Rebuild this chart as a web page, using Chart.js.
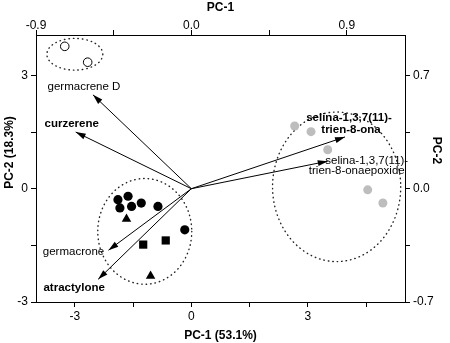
<!DOCTYPE html>
<html>
<head>
<meta charset="utf-8">
<script src="https://cdn.jsdelivr.net/npm/chart.js@4/dist/chart.umd.min.js"></script>
<style>
html, body { margin: 0; padding: 0; background: #fff; }
</style>
</head>
<body>
<canvas id="chart" width="450" height="343"></canvas>
<script>
// Scores on PC-1 / PC-2 (bottom / left axes)
const openPts = [[-3.26, 3.77], [-2.67, 3.35]];
const greyPts = [[2.66, 1.66], [3.08, 1.51], [3.51, 1.03], [4.54, -0.03], [4.93, -0.38]];
const blackPts = [[-1.89, -0.29], [-1.63, -0.20], [-1.84, -0.51], [-1.54, -0.47], [-1.29, -0.38], [-0.86, -0.47], [-0.17, -1.09]];
const triPts = [[-1.67, -0.80], [-1.05, -2.31]];
const squarePts = [[-1.24, -1.48], [-0.66, -1.37]];

// Loadings (top / right axes)
const loadNames = ['germacrene D', 'curzerene', 'selina-1,3,7(11)-trien-8-ona', 'selina-1,3,7(11)-trien-8-onaepoxide', 'germacrone', 'atractylone'];
const loadX = [-0.57, -0.67, 0.89, 0.79, -0.48, -0.54];
const loadY = [0.58, 0.35, 0.32, 0.17, -0.38, -0.56];

// Group ellipses (score units)
const ellCx = [-3.0, 3.74, -1.2];
const ellCy = [3.56, 0.05, -1.13];
const ellRx = [0.72, 1.65, 1.21];
const ellRy = [0.42, 1.98, 1.40];

// Axis ticks
const bottomTicks = [-3, -1.5, 0, 1.5, 3, 4.5];
const bottomLabels = ['-3', '', '0', '', '3', ''];
const topTicks = [-0.9, -0.45, 0, 0.45, 0.9];
const topLabels = ['-0.9', '', '0.0', '', '0.9'];
const leftTicks = [-3, -1.5, 0, 1.5, 3];
const leftLabels = ['-3', '', '0', '', '3'];
const rightTicks = [-0.7, -0.35, 0, 0.35, 0.7];
const rightLabels = ['-0.7', '', '0.0', '', '0.7'];

const FONT = '"Liberation Sans", Arial, Helvetica, sans-serif';
Chart.defaults.font.family = FONT;
Chart.defaults.color = '#000';

const toXY = arr => arr.map(p => ({x: p[0], y: p[1]}));

// how each loading label sits relative to its arrow tip (px)
const labelLayout = [
    {bold: false, lines: [['germacrene D', -9, -8]]},
    {bold: true, lines: [['curzerene', -4, -8]]},
    {bold: true, lines: [['selina-1,3,7(11)-', 4, -19], ['trien-8-ona', 6, -7]]},
    {bold: false, lines: [['selina-1,3,7(11)-', 39, 0], ['trien-8-onaepoxide', 29, 10]]},
    {bold: false, lines: [['germacrone', -35, 2]]},
    {bold: true, lines: [['atractylone', -24, 8]]}
];

const biplotPlugin = {
    id: 'biplot',
    beforeDatasetsDraw(chart) {
        const ctx = chart.ctx;
        const sx = chart.scales.x, sy = chart.scales.y;
        ctx.save();
        ctx.strokeStyle = '#222';
        ctx.lineWidth = 1.4;
        ctx.lineCap = 'round';
        ctx.setLineDash([0.5, 4]);
        ellCx.forEach((cx, i) => {
            const px = sx.getPixelForValue(cx);
            const py = sy.getPixelForValue(ellCy[i]);
            const rx = Math.abs(sx.getPixelForValue(cx + ellRx[i]) - px);
            const ry = Math.abs(sy.getPixelForValue(ellCy[i] + ellRy[i]) - py);
            ctx.beginPath();
            ctx.ellipse(px, py, rx, ry, 0, 0, Math.PI * 2);
            ctx.stroke();
        });
        ctx.restore();
    },
    afterDatasetsDraw(chart) {
        const ctx = chart.ctx;
        ctx.save();
        chart.data.datasets.forEach((ds, di) => {
            if (ds.arrowIndex === undefined) return;
            const pts = chart.getDatasetMeta(di).data;
            const a = pts[0], b = pts[1];
            const ang = Math.atan2(b.y - a.y, b.x - a.x);
            const len = 10, half = 3;
            ctx.fillStyle = '#000';
            ctx.beginPath();
            ctx.moveTo(b.x, b.y);
            ctx.lineTo(b.x - len * Math.cos(ang) + half * Math.sin(ang), b.y - len * Math.sin(ang) - half * Math.cos(ang));
            ctx.lineTo(b.x - len * Math.cos(ang) - half * Math.sin(ang), b.y - len * Math.sin(ang) + half * Math.cos(ang));
            ctx.closePath();
            ctx.fill();

            const lab = labelLayout[ds.arrowIndex];
            ctx.font = (lab.bold ? 'bold ' : '') + '11.5px ' + FONT;
            ctx.textAlign = 'center';
            ctx.textBaseline = 'middle';
            lab.lines.forEach(l => {
                ctx.fillText(l[0], b.x + l[1], b.y + l[2]);
            });
        });
        ctx.restore();
    },
    afterDraw(chart) {
        // side axis titles sit a little above the middle of the frame
        const ctx = chart.ctx;
        const area = chart.chartArea;
        const midY = (area.top + area.bottom) / 2 - 16;
        ctx.save();
        ctx.font = 'bold 12px ' + FONT;
        ctx.fillStyle = '#000';
        ctx.textAlign = 'center';
        ctx.textBaseline = 'middle';
        ctx.translate(10, midY);
        ctx.rotate(-Math.PI / 2);
        ctx.fillText('PC-2 (18.3%)', 0, 0);
        ctx.restore();
        ctx.save();
        ctx.font = 'bold 12px ' + FONT;
        ctx.fillStyle = '#000';
        ctx.textAlign = 'center';
        ctx.textBaseline = 'middle';
        ctx.translate(area.right + 31, midY - 2);
        ctx.rotate(Math.PI / 2);
        ctx.fillText('PC-2', 0, 0);
        ctx.restore();
    }
};

const arrowSets = loadNames.map((name, i) => ({
    label: name,
    arrowIndex: i,
    data: [{x: 0, y: 0}, {x: loadX[i], y: loadY[i]}],
    xAxisID: 'x2',
    yAxisID: 'y2',
    showLine: true,
    borderColor: '#000',
    borderWidth: 1,
    pointRadius: 0
}));

function axisTicks(values) {
    return scale => { scale.ticks = values.map(v => ({value: v})); };
}

const tickFont = {size: 12};
const titleFont = {size: 12, weight: 'bold'};

new Chart(document.getElementById('chart'), {
    type: 'scatter',
    data: {
        datasets: [
            {label: 'open', data: toXY(openPts), pointStyle: 'circle', pointRadius: 4.3, backgroundColor: '#fff', borderColor: '#000', borderWidth: 1},
            {label: 'grey', data: toXY(greyPts), pointStyle: 'circle', pointRadius: 4.5, backgroundColor: '#bdbdbd', borderColor: '#bdbdbd', borderWidth: 0},
            {label: 'black', data: toXY(blackPts), pointStyle: 'circle', pointRadius: 4.6, backgroundColor: '#000', borderColor: '#000', borderWidth: 0},
            {label: 'triangle', data: toXY(triPts), pointStyle: 'triangle', pointRadius: 5.5, backgroundColor: '#000', borderColor: '#000', borderWidth: 0},
            {label: 'square', data: toXY(squarePts), pointStyle: 'rect', pointRadius: 5.8, backgroundColor: '#000', borderColor: '#000', borderWidth: 0},
            ...arrowSets
        ]
    },
    options: {
        responsive: false,
        animation: false,
        layout: {padding: 0},
        plugins: {
            legend: {display: false},
            tooltip: {enabled: false}
        },
        scales: {
            x: {
                type: 'linear', position: 'bottom', min: -4, max: 5.5,
                afterBuildTicks: axisTicks(bottomTicks),
                afterFit: s => { s.height = 41; },
                grid: {drawOnChartArea: false, tickLength: 5, color: '#000'},
                border: {color: '#000', width: 1},
                ticks: {font: tickFont, padding: 2, autoSkip: false, maxRotation: 0, callback: (v, i) => bottomLabels[i]},
                title: {display: true, text: 'PC-1 (53.1%)', font: titleFont, padding: {top: 2, bottom: 0}}
            },
            x2: {
                type: 'linear', position: 'top', min: -0.9, max: 1.2375,
                afterBuildTicks: axisTicks(topTicks),
                afterFit: s => { s.height = 35; },
                grid: {drawOnChartArea: false, tickLength: 5, color: '#000'},
                border: {color: '#000', width: 1},
                ticks: {font: {size: 12, lineHeight: 0.7}, padding: 0, autoSkip: false, maxRotation: 0, callback: (v, i) => topLabels[i]},
                title: {display: true, text: 'PC-1', font: titleFont, padding: {top: 0, bottom: 2}}
            },
            y: {
                type: 'linear', position: 'left', min: -3, max: 4.07,
                afterBuildTicks: axisTicks(leftTicks),
                afterFit: s => { s.width = 36; },
                grid: {drawOnChartArea: false, tickLength: 5, color: '#000'},
                border: {color: '#000', width: 1},
                ticks: {font: tickFont, padding: 3, autoSkip: false, callback: (v, i) => leftLabels[i]}
            },
            y2: {
                type: 'linear', position: 'right', min: -0.7, max: 0.9497,
                afterBuildTicks: axisTicks(rightTicks),
                afterFit: s => { s.width = 45; },
                grid: {drawOnChartArea: false, tickLength: 5, color: '#000'},
                border: {color: '#000', width: 1},
                ticks: {font: tickFont, padding: 3, autoSkip: false, callback: (v, i) => rightLabels[i]}
            }
        }
    },
    plugins: [biplotPlugin]
});
</script>
</body>
</html>
